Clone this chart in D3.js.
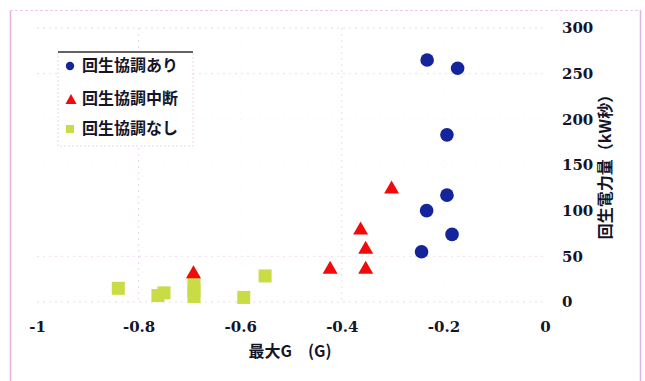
<!DOCTYPE html>
<html>
<head>
<meta charset="utf-8">
<script src="https://cdn.jsdelivr.net/npm/d3@7"></script>
<style>
  html, body { margin: 0; padding: 0; background: #fff; }
  svg { display: block; }
</style>
</head>
<body>
<svg id="chart" width="645" height="381"></svg>
<script>
// Regenerated energy vs. peak deceleration, three braking modes
const seriesNames = ["回生協調あり", "回生協調中断", "回生協調なし"];

const withX = [-0.232, -0.172, -0.193, -0.193, -0.233, -0.183, -0.243];
const withY = [265, 256, 183, 117, 100, 74, 55];

const interruptedX = [-0.302, -0.363, -0.353, -0.353, -0.423, -0.692];
const interruptedY = [126, 81, 60, 38, 38, 33];

const withoutX = [-0.840, -0.762, -0.750, -0.691, -0.691, -0.691, -0.593, -0.551];
const withoutY = [15, 7, 10, 20, 12, 6, 5, 28.5];

const xTicks = [-1, -0.8, -0.6, -0.4, -0.2, 0];
const xTickLabels = ["-1", "-0.8", "-0.6", "-0.4", "-0.2", "0"];
const yTicks = [0, 50, 100, 150, 200, 250, 300];
const yTickLabels = ["0", "50", "100", "150", "200", "250", "300"];

const xTitle = "最大G\u3000(G)";
const yTitle = "回生電力量（kW秒）";

const svg = d3.select("#chart");
const x = d3.scaleLinear().domain([-1, 0]).range([37, 545]);
const y = d3.scaleLinear().domain([0, 300]).range([302, 28]);

const tickFont = "'DejaVu Serif', 'Liberation Serif', serif";
const cjkFont = "'Noto Sans CJK JP', 'Noto Sans CJK SC', sans-serif";

// outer frame: solid sides, dotted top
svg.append("line").attr("x1", 10.5).attr("x2", 10.5).attr("y1", 10).attr("y2", 381)
  .attr("stroke", "#e6b2dc").attr("stroke-width", 1.5);
svg.append("line").attr("x1", 640.5).attr("x2", 640.5).attr("y1", 10).attr("y2", 381)
  .attr("stroke", "#d8b4e4").attr("stroke-width", 1.5);
svg.append("line").attr("x1", 10).attr("x2", 641).attr("y1", 10.5).attr("y2", 10.5)
  .attr("stroke", "#ecc8ec").attr("stroke-width", 1).attr("stroke-dasharray", "3,2");

// faint dotted gridlines
svg.append("g").selectAll("line").data(yTicks).join("line")
  .attr("x1", x(-1)).attr("x2", x(0))
  .attr("y1", d => y(d)).attr("y2", d => y(d))
  .attr("stroke", "#eccaec").attr("stroke-width", 1)
  .attr("stroke-dasharray", "2,4")
  .attr("opacity", d => (d === 0 || d === 50 || d === 250 || d === 300) ? 0.75 : 0.12);

svg.append("g").selectAll("line").data(xTicks.slice(1, -1)).join("line")
  .attr("x1", d => x(d)).attr("x2", d => x(d))
  .attr("y1", y(300)).attr("y2", y(0))
  .attr("stroke", "#eccaec").attr("stroke-width", 1)
  .attr("stroke-dasharray", "2,4")
  .attr("opacity", d => (d === -0.8 || d === -0.4) ? 0.75 : 0.12);

// axes (labels only)
const xAxis = d3.axisBottom(x)
  .tickValues(xTicks)
  .tickFormat((d, i) => xTickLabels[i])
  .tickSize(0).tickPadding(19);
const gx = svg.append("g").attr("transform", `translate(0,${y(0)})`).call(xAxis);
gx.select(".domain").remove();
gx.selectAll("text")
  .attr("font-family", tickFont).attr("font-weight", "bold")
  .attr("font-size", 15).attr("fill", "#15152a");

const yAxis = d3.axisRight(y)
  .tickValues(yTicks)
  .tickFormat((d, i) => yTickLabels[i])
  .tickSize(0).tickPadding(17);
const gy = svg.append("g").attr("transform", `translate(${x(0)},0)`).call(yAxis);
gy.select(".domain").remove();
gy.selectAll("text")
  .attr("font-family", tickFont).attr("font-weight", "bold")
  .attr("font-size", 15).attr("fill", "#15152a");

// axis titles
svg.append("text")
  .attr("x", 290).attr("y", 357)
  .attr("text-anchor", "middle")
  .attr("font-family", cjkFont).attr("font-weight", "bold")
  .attr("font-size", 16).attr("fill", "#15152a")
  .text(xTitle);

svg.append("text")
  .attr("transform", `translate(611,163) rotate(-90)`)
  .attr("text-anchor", "middle")
  .attr("font-family", cjkFont).attr("font-weight", "bold")
  .attr("font-size", 16).attr("fill", "#15152a")
  .text(yTitle);

// marker shapes
const blue = "#14249a", red = "#f20a0a", green = "#c9dc45";
function trianglePath(w, h) {
  return `M0,${-h / 2}L${w / 2},${h / 2}L${-w / 2},${h / 2}Z`;
}

const toPoints = (xs, ys) => xs.map((v, i) => ({ x: v, y: ys[i] }));

// no regenerative cooperation: squares
svg.append("g").selectAll("rect").data(toPoints(withoutX, withoutY)).join("rect")
  .attr("x", d => x(d.x) - 6.5).attr("y", d => y(d.y) - 6.5)
  .attr("width", 13).attr("height", 13)
  .attr("fill", green);

// interrupted cooperation: triangles
svg.append("g").selectAll("path").data(toPoints(interruptedX, interruptedY)).join("path")
  .attr("d", trianglePath(15, 13))
  .attr("transform", d => `translate(${x(d.x)},${y(d.y)})`)
  .attr("fill", red);

// with cooperation: circles
svg.append("g").selectAll("circle").data(toPoints(withX, withY)).join("circle")
  .attr("cx", d => x(d.x)).attr("cy", d => y(d.y)).attr("r", 6.8)
  .attr("fill", blue);

// legend
const legend = svg.append("g");
legend.append("rect")
  .attr("x", 58).attr("y", 52).attr("width", 135).attr("height", 94)
  .attr("fill", "#fff").attr("stroke", "#efd2ef").attr("stroke-width", 1)
  .attr("stroke-dasharray", "2,2");
legend.append("line")
  .attr("x1", 58).attr("x2", 193).attr("y1", 52).attr("y2", 52)
  .attr("stroke", "#333").attr("stroke-width", 1.5);

const rows = [66, 99, 129];
legend.append("circle").attr("cx", 70).attr("cy", rows[0]).attr("r", 4.2).attr("fill", blue);
legend.append("path").attr("d", trianglePath(11, 10))
  .attr("transform", `translate(71,${rows[1]})`).attr("fill", red);
legend.append("rect").attr("x", 66).attr("y", rows[2] - 4).attr("width", 8).attr("height", 8)
  .attr("fill", green);

legend.selectAll("text").data(seriesNames).join("text")
  .attr("x", 82).attr("y", (d, i) => rows[i] + 1)
  .attr("dominant-baseline", "middle")
  .attr("font-family", cjkFont).attr("font-weight", "bold")
  .attr("font-size", 16).attr("fill", "#15152a")
  .text(d => d);
</script>
</body>
</html>
